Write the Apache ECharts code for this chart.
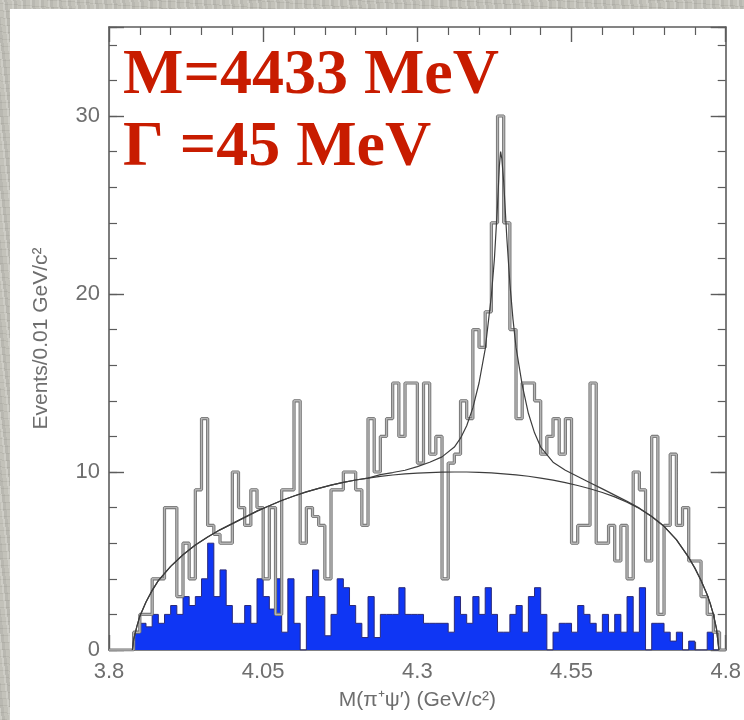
<!DOCTYPE html>
<html>
<head>
<meta charset="utf-8">
<script src="https://cdn.jsdelivr.net/npm/echarts@6.0.0/dist/echarts.min.js"></script>
<style>
html, body { margin: 0; padding: 0; }
body {
  width: 744px; height: 720px; overflow: hidden; position: relative;
  background: #c3c2ba;
  background-image:
    repeating-linear-gradient(83deg, rgba(255,255,255,0.18) 0 2px, rgba(0,0,0,0.05) 2px 5px, rgba(255,255,255,0) 5px 9px),
    repeating-linear-gradient(4deg, rgba(0,0,0,0.06) 0 1px, rgba(255,255,255,0) 1px 7px);
}
#panel { position: absolute; left: 10px; top: 9px; width: 734px; height: 711px; background: #fff; }
#chart { position: absolute; left: 0; top: 0; width: 744px; height: 720px; }
</style>
</head>
<body>
<div id="panel"></div>
<div id="chart"></div>
<script>
// histogram binning: 100 bins of 0.01 GeV from 3.80
const binStart = 3.8
const binStep = 0.01

const xTicks = [3.8, 4.05, 4.3, 4.55, 4.8]
const yTicks = [0, 10, 20, 30]

// events per bin (grey outline)
const dataCounts = [
  0, 0, 0, 0, 1, 2, 2, 4, 4, 8,
  8, 3, 6, 4, 9, 13, 7, 6.5, 6, 6,
  10, 8, 7, 9, 8, 4, 8, 2, 9, 9,
  14, 6, 8, 7.5, 7, 4, 9, 9, 10, 10,
  9, 7, 13, 10, 12, 13, 15, 12, 15, 15,
  10.5, 15, 11, 12, 4, 10.5, 11, 14, 13, 18,
  17, 19, 24, 30, 24, 18, 13, 15, 15, 14,
  11, 12, 13, 11, 13, 6, 7, 7, 15, 6,
  6, 7, 5, 7, 4, 10, 9, 5, 12, 2,
  7, 11, 7, 8, 5, 5, 3, 2, 1, 0
]

// sideband background per bin (blue)
const bkgCounts = [
  0, 0, 0, 0, 1, 1.5, 1.3, 2, 1.5, 2,
  2.5, 2, 3, 2.5, 3, 4, 6, 3, 4.5, 2.5,
  1.5, 1.5, 2.5, 1.5, 4, 3, 2.3, 4, 1, 4,
  1.5, 0, 3, 4.5, 3, 0.8, 2, 4, 3.5, 2.5,
  1.5, 0.7, 3, 0.7, 2, 2, 2, 3.5, 2, 2,
  2, 1.5, 1.5, 1.5, 1.5, 1, 3, 2, 1.5, 3,
  2, 3.5, 2, 1, 1, 2, 2.5, 1, 3, 3.5,
  2, 0, 1, 1.5, 1.5, 1, 2.5, 2, 1.5, 1,
  2, 1, 2, 1, 3, 1, 3.5, 0, 1.5, 1.5,
  1, 0.5, 1, 0, 0.5, 0, 0, 1, 0, 0
]

// fitted background curve
const fitBkgMass = [3.838, 3.84, 3.845, 3.85, 3.86, 3.87, 3.88, 3.90, 3.92, 3.94, 3.96, 3.98,
  4.00, 4.02, 4.04, 4.06, 4.08, 4.10, 4.12, 4.14, 4.16, 4.18, 4.20, 4.22, 4.24, 4.26, 4.28,
  4.30, 4.32, 4.34, 4.36, 4.38, 4.40, 4.42, 4.44, 4.46, 4.48, 4.50, 4.52, 4.54, 4.56, 4.58,
  4.60, 4.62, 4.64, 4.66, 4.68, 4.70, 4.72, 4.74, 4.75, 4.76, 4.77, 4.775, 4.78, 4.785, 4.789]
const fitBkgVal = [0, 0.6, 1.3, 1.9, 2.7, 3.35, 3.9, 4.7, 5.35, 5.9, 6.35, 6.75,
  7.1, 7.45, 7.8, 8.1, 8.4, 8.65, 8.88, 9.08, 9.26, 9.42, 9.55, 9.66, 9.75, 9.83, 9.89,
  9.94, 9.97, 9.99, 10.0, 10.0, 9.98, 9.95, 9.9, 9.84, 9.76, 9.66, 9.54, 9.4, 9.24, 9.06,
  8.85, 8.6, 8.3, 7.95, 7.5, 6.95, 6.2, 5.2, 4.6, 3.9, 3.1, 2.6, 2.0, 1.2, 0]

// fitted total (signal + background) curve
const fitTotMass = [3.838, 3.84, 3.845, 3.85, 3.86, 3.87, 3.88, 3.90, 3.92, 3.94, 3.96, 3.98,
  4.00, 4.02, 4.04, 4.06, 4.08, 4.10, 4.12, 4.14, 4.16, 4.18, 4.20, 4.22, 4.24, 4.26, 4.28,
  4.30, 4.32, 4.34, 4.36, 4.37, 4.38, 4.39, 4.40, 4.41, 4.42, 4.425, 4.43, 4.433, 4.435,
  4.437, 4.44, 4.445, 4.45, 4.455, 4.46, 4.47, 4.48, 4.49, 4.50, 4.52, 4.54, 4.56, 4.58,
  4.60, 4.62, 4.64, 4.66, 4.68, 4.70, 4.72, 4.74, 4.75, 4.76, 4.77, 4.775, 4.78, 4.785, 4.789]
const fitTotVal = [0, 0.6, 1.3, 1.9, 2.7, 3.35, 3.9, 4.7, 5.35, 5.9, 6.35, 6.75,
  7.1, 7.45, 7.8, 8.1, 8.4, 8.65, 8.88, 9.08, 9.26, 9.42, 9.55, 9.66, 9.85, 9.97, 10.1,
  10.3, 10.55, 10.85, 11.4, 11.9, 12.6, 13.6, 15.0, 16.9, 19.9, 22.0, 25.0, 27.2, 28.0,
  27.6, 26.3, 23.2, 20.6, 18.6, 17.0, 14.9, 13.3, 12.2, 11.4, 10.55, 10.1, 9.75, 9.4,
  9.05, 8.7, 8.35, 7.97, 7.5, 6.95, 6.2, 5.2, 4.6, 3.9, 3.1, 2.6, 2.0, 1.2, 0]

const labelLines = ['M=4433 MeV', 'Γ =45 MeV']

function toSteps(counts) {
  const pts = counts.map((c, i) => [+(binStart + i * binStep).toFixed(2), c])
  pts.push([+(binStart + counts.length * binStep).toFixed(2), counts[counts.length - 1]])
  return pts
}
function zip(xs, ys) { return xs.map((x, i) => [x, ys[i]]) }

const axisGrey = '#5c5c5c'
const textGrey = '#6e6e6e'
const labelFont = { color: textGrey, fontFamily: 'Liberation Sans', fontSize: 22 }

function xAx(pos, showLabel) {
  return {
    type: 'value', position: pos, min: xTicks[0], max: xTicks[xTicks.length - 1],
    interval: xTicks[1] - xTicks[0],
    axisLine: { show: true, onZero: false, lineStyle: { color: axisGrey, width: 1.6 } },
    axisTick: { show: true, inside: true, length: 15, lineStyle: { color: axisGrey, width: 1.4 } },
    minorTick: { show: true, splitNumber: 5, length: 8, lineStyle: { color: axisGrey, width: 1.2 } },
    splitLine: { show: false },
    axisLabel: showLabel ? Object.assign({ margin: 11, formatter: v => String(+v.toFixed(2)) }, labelFont) : { show: false },
    name: showLabel ? 'M(π⁺ψ′) (GeV/c²)' : '',
    nameLocation: 'middle', nameGap: 40,
    nameTextStyle: { color: textGrey, fontFamily: 'Liberation Sans', fontSize: 21 }
  }
}
function yAx(pos, step, len, main, showLabel) {
  return {
    type: 'value', position: pos, min: 0, max: 35, interval: step,
    axisLine: { show: main, onZero: false, lineStyle: { color: axisGrey, width: 1.6 } },
    axisTick: { show: true, inside: true, length: len, lineStyle: { color: axisGrey, width: len > 10 ? 1.4 : 1.2 } },
    splitLine: { show: false },
    axisLabel: showLabel ? Object.assign({ margin: 9, formatter: v => yTicks.includes(v) ? String(v) : '' }, labelFont) : { show: false },
    name: showLabel ? 'Events/0.01 GeV/c²' : '',
    nameLocation: 'middle', nameGap: 57,
    nameTextStyle: { color: textGrey, fontFamily: 'Liberation Sans', fontSize: 21 }
  }
}

const chart = echarts.init(document.getElementById('chart'))
chart.setOption({
  animation: false,
  backgroundColor: 'transparent',
  grid: { left: 109, right: 16, top: 27, bottom: 70 },
  xAxis: [xAx('bottom', true), xAx('top', false)],
  yAxis: [
    yAx('left', 10, 15, true, true),
    yAx('left', 2, 8, false, false),
    yAx('right', 10, 15, true, false),
    yAx('right', 2, 8, false, false)
  ],
  series: [
    {
      type: 'line', step: 'end', symbol: 'none', data: toSteps(bkgCounts),
      lineStyle: { color: '#2a2a7a', width: 1 },
      areaStyle: { color: '#0f36f4', opacity: 1 },
      z: 2
    },
    {
      type: 'line', step: 'end', symbol: 'none', data: toSteps(dataCounts),
      lineStyle: { color: '#6f6f6f', width: 3.2 }, z: 3
    },
    {
      type: 'line', step: 'end', symbol: 'none', data: toSteps(dataCounts),
      lineStyle: { color: '#b4b4b4', width: 1.5 }, z: 4
    },
    {
      type: 'line', symbol: 'none', data: zip(fitBkgMass, fitBkgVal),
      lineStyle: { color: '#3d3d3d', width: 1.2 }, z: 5
    },
    {
      type: 'line', symbol: 'none', data: zip(fitTotMass, fitTotVal),
      lineStyle: { color: '#3d3d3d', width: 1.2 }, z: 5
    }
  ],
  graphic: labelLines.map((t, i) => ({
    type: 'text', left: 123, top: 44 + i * 72, z: 10,
    style: { text: t, fill: '#c81c00', font: 'bold 64px "Liberation Serif", "Times New Roman", serif' }
  }))
})
</script>
</body>
</html>
